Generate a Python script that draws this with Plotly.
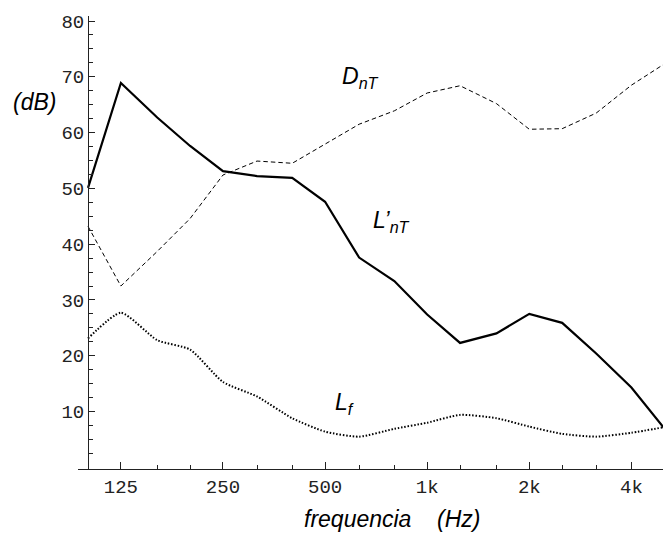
import math
import plotly.graph_objects as go

# third-octave band centre frequencies (Hz)
freqs = [100, 125, 160, 200, 250, 315, 400, 500, 630, 800,
         1000, 1250, 1600, 2000, 2500, 3150, 4000, 5000]

# series values (dB)
L_nT = [50.1, 68.9, 62.7, 57.6, 53.1, 52.2, 51.9, 47.6, 37.6, 33.4,
        27.4, 22.3, 24.0, 27.5, 25.9, 20.4, 14.3, 7.0]
D_nT = [43.2, 32.5, 38.7, 44.6, 52.4, 54.9, 54.5, 57.9, 61.5, 63.9,
        67.1, 68.4, 65.2, 60.6, 60.7, 63.5, 68.5, 72.3]
L_f = [23.1, 27.7, 22.8, 21.1, 15.3, 12.7, 8.8, 6.4, 5.5, 6.9,
       8.0, 9.4, 8.8, 7.3, 6.0, 5.5, 6.2, 7.2]

# tick labels
x_tickvals = [125, 250, 500, 1000, 2000, 4000]
x_ticktext = ["125", "250", "500", "1k", "2k", "4k"]
y_tickvals = [10, 20, 30, 40, 50, 60, 70, 80]

# page body has an 8px margin: shrink the figure and shift by it
OFF = 8
W, H = 671 - OFF, 534 - OFF
L_M, R_M, T_M, B_M = 78 - OFF, 0, 16 - OFF, 65
PW, PH = W - L_M - R_M, H - T_M - B_M


def px(x):
    return (x - OFF - L_M) / PW


def py(y):
    return (H - B_M - (y - OFF)) / PH


fig = go.Figure()
fig.add_trace(go.Scatter(x=freqs, y=D_nT, mode="lines",
                         line=dict(color="black", width=1, dash="4.5px,3px")))
fig.add_trace(go.Scatter(x=freqs, y=L_nT, mode="lines",
                         line=dict(color="black", width=2.2)))
fig.add_trace(go.Scatter(x=freqs, y=L_f, mode="lines",
                         line=dict(color="black", width=2, dash="1.5px,1.8px",
                                   shape="spline", smoothing=0.6)))

x_minor = [f for f in freqs[1:] if f not in x_tickvals]
y_minor = [v / 2 for v in range(5, 161, 5) if (v / 2) % 10 != 0]

tick_font = dict(family="Courier New, Liberation Mono, monospace", size=19,
                 color="#222")
fig.update_layout(
    width=W, height=H,
    margin=dict(l=L_M, r=R_M, t=T_M, b=B_M),
    paper_bgcolor="white", plot_bgcolor="white",
    showlegend=False,
    xaxis=dict(type="log", range=[1.9705, 3.7188],
               tickmode="array", tickvals=x_tickvals, ticktext=x_ticktext,
               ticks="inside", ticklen=7, tickwidth=1, tickcolor="#222",
               showline=True, linecolor="#222", linewidth=1,
               showgrid=False, zeroline=False, tickfont=tick_font,
               minor=dict(tickmode="array", tickvals=x_minor, ticks="inside",
                          ticklen=4, tickcolor="#222", showgrid=False)),
    yaxis=dict(range=[-0.3, 80.9], anchor="free", position=px(88),
               tickmode="array", tickvals=y_tickvals,
               ticks="inside", ticklen=6, tickwidth=1, tickcolor="#222",
               showline=True, linecolor="#222", linewidth=1,
               showgrid=False, zeroline=False, tickfont=tick_font,
               minor=dict(tickmode="array", tickvals=y_minor, ticks="inside",
                          ticklen=4, tickcolor="#222", showgrid=False)),
)

lab_font = dict(family="Liberation Sans, Arial, sans-serif", size=23,
                color="black")


def label(text, x, y, anchor="left"):
    fig.add_annotation(text=text, xref="paper", yref="paper",
                       x=px(x), y=py(y), xanchor=anchor, yanchor="middle",
                       showarrow=False, font=lab_font)


label("<i>(dB)</i>", 11, 102)
label("<i>D<sub>nT</sub></i>", 340, 77)
label("<i>L’<sub>nT</sub></i>", 371, 221)
label("<i>L<sub>f</sub></i>", 333, 404)
label("<i>frequencia\u00a0\u00a0\u00a0\u00a0(Hz)</i>", 392, 519, anchor="center")

fig.write_html("out.html")
